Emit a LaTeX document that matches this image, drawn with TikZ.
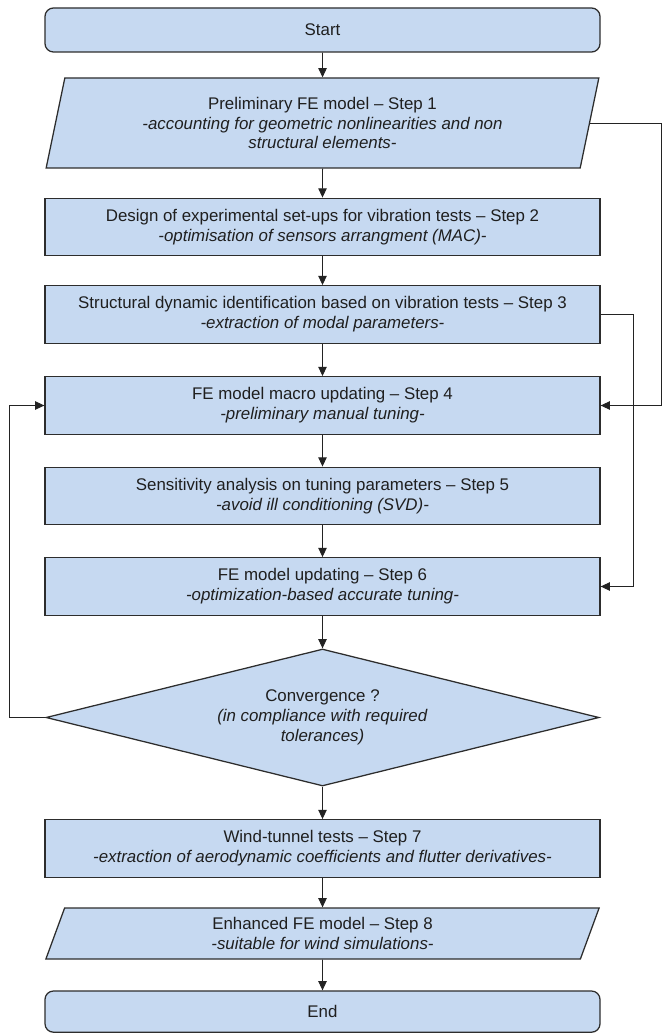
\documentclass[tikz,border=0pt]{standalone}
\usepackage{fontspec}
\setmainfont{Liberation Sans}
\usetikzlibrary{shapes.geometric, arrows.meta, positioning}
\definecolor{boxblue}{RGB}{198, 217, 241}
\definecolor{edgegray}{RGB}{45, 45, 45}
\definecolor{linegray}{RGB}{35, 35, 35}

\begin{document}
\begin{tikzpicture}[
  stepbox/.style={draw=edgegray, line width=0.9pt, fill=boxblue, text=black!88, align=center, inner sep=0pt, minimum width=13.875cm, minimum height=1.44cm, font=\fontsize{12}{14.2}\selectfont},
  termbox/.style={stepbox, rounded corners=6pt},
  iobox/.style={stepbox, trapezium, trapezium left angle=76, trapezium right angle=104, trapezium stretches=true, minimum width=13.85cm},
  decbox/.style={stepbox, diamond, aspect=4, minimum width=13.825cm, minimum height=3.425cm},
  arr/.style={draw=linegray, line width=0.65pt, -{Triangle[length=2.3mm, width=2.1mm]}}
]
  \useasboundingbox (0,0) rectangle (16.55,-25.875);

  \node[termbox, minimum height=1.1cm] (start) at (8.0625, -0.75) {Start};

  \node[iobox, minimum height=2.25cm] (step1) at (8.0625, -3.075) {
    Preliminary FE model – Step 1\\
    \textit{-accounting for geometric nonlinearities and non}\\
    \textit{structural elements-}
  };

  \node[stepbox] (step2) at (8.0625, -5.675) {
    Design of experimental set-ups for vibration tests – Step 2\\
    \textit{-optimisation of sensors arrangment (MAC)-}
  };

  \node[stepbox] (step3) at (8.0625, -7.8625) {
    Structural dynamic identification based on vibration tests – Step 3\\
    \textit{-extraction of modal parameters-}
  };

  \node[stepbox] (step4) at (8.0625, -10.1375) {
    FE model macro updating – Step 4\\
    \textit{-preliminary manual tuning-}
  };

  \node[stepbox] (step5) at (8.0625, -12.4) {
    Sensitivity analysis on tuning parameters – Step 5\\
    \textit{-avoid ill conditioning (SVD)-}
  };

  \node[stepbox] (step6) at (8.0625, -14.6625) {
    FE model updating – Step 6\\
    \textit{-optimization-based accurate tuning-}
  };

  \node[decbox] (conv) at (8.0625, -17.9375) {
    Convergence ?\\
    \textit{(in compliance with required}\\
    \textit{tolerances)}
  };

  \node[stepbox] (step7) at (8.0625, -21.2125) {
    Wind-tunnel tests – Step 7\\
    \textit{-extraction of aerodynamic coefficients and flutter derivatives-}
  };

  \node[iobox, minimum height=1.275cm] (step8) at (8.0625, -23.3375) {
    Enhanced FE model – Step 8\\
    \textit{-suitable for wind simulations-}
  };

  \node[termbox, minimum height=1.03cm] (end) at (8.0625, -25.29) {End};

  % side lines of the loops
  \coordinate (leftrail) at (0.225, 0);
  \coordinate (innerrail) at (15.825, 0);
  \coordinate (outerrail) at (16.525, 0);

  \draw[arr] (start) -- (step1);
  \draw[arr] (step1) -- (step2);
  \draw[arr] (step2) -- (step3);
  \draw[arr] (step3) -- (step4);
  \draw[arr] (step4) -- (step5);
  \draw[arr] (step5) -- (step6);
  \draw[arr] (step6) -- (conv);
  \draw[arr] (conv) -- (step7);
  \draw[arr] (step7) -- (step8);
  \draw[arr] (step8) -- (end);

  \draw[arr] (step1.east) -- (step1.east -| outerrail) |- (step4.east);
  \draw[arr] (step3.east) -- (step3.east -| innerrail) |- (step6.east);
  \draw[arr] (conv.west) -- (conv.west -| leftrail) |- (step4.west);
\end{tikzpicture}
\end{document}
